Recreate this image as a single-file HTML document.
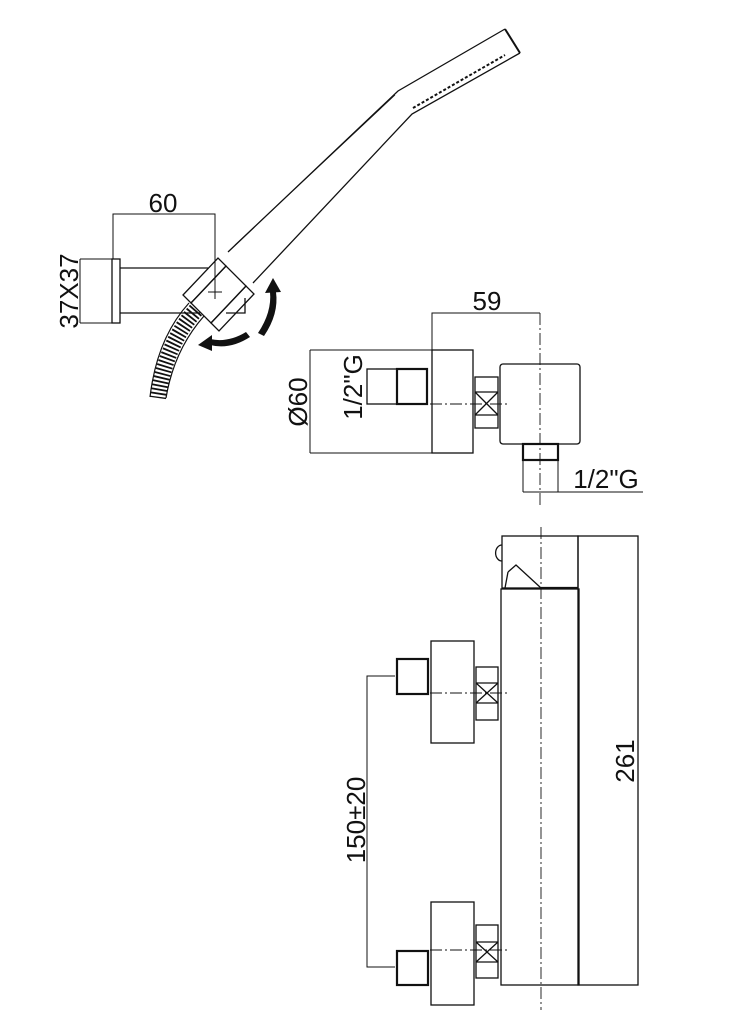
<!DOCTYPE html>
<html><head><style>
html,body{margin:0;padding:0;background:#fff;}
svg{display:block;}
text{font-family:"Liberation Sans",sans-serif;fill:#111;}
</style></head><body>
<svg width="743" height="1024" viewBox="0 0 743 1024" xmlns="http://www.w3.org/2000/svg">
<g fill="none" stroke="#111" stroke-width="1.3">
<!-- hand shower -->
<path d="M505,29 L398,91 L228,252"/>
<path d="M520,53 L412,114 L253,283"/>
<path d="M505,29 L520,53" stroke-width="2"/>
<path d="M413,108 L505,55" stroke-dasharray="3,2" stroke-width="2"/>
<path d="M235,245 L395,95" stroke-width="0.8"/>
<!-- holder -->
<polygon points="183,295 218,258 226,266 191,303"/>
<polygon points="211,323 246,286 254,294 219,331"/>
<polygon points="191,303 226,266 246,286 211,323"/>
<path d="M208,292 h14 M215,285 v14" stroke-width="1"/>
<!-- wall bracket -->
<rect x="112" y="259" width="8" height="64"/>
<path d="M120,268 H208 M120,313 H200 M226,313 H245 V298"/>
<!-- dims -->
<path d="M113,259 V214 H215 V292" stroke-width="1"/>
<path d="M80,259 H112 M80,323 H112 M80,259 V323" stroke-width="1"/>
<!-- hose -->
<path d="M196,310 Q165,345 158,398" stroke="#111" stroke-width="16" stroke-dasharray="1.8,2.2"/>
<path d="M189,303 Q157,338 150,397 M204,316 Q174,350 166,398" stroke-width="1.2"/>
</g>
<!-- arrows -->
<g fill="#111" stroke="none">
<path d="M258,333 Q272,312 270,292 L276,292 Q279,314 264,336 Z"/>
<polygon points="265,293 281,292 273,278"/>
<path d="M250,337 Q230,350 210,345 L210,339 Q228,343 246,332 Z"/>
<polygon points="212,335 212,351 198,345"/>
</g>
<text x="163" y="212" font-size="26" text-anchor="middle">60</text>
<text transform="translate(78,291) rotate(-90)" font-size="26" text-anchor="middle">37X37</text>

<!-- top view -->
<g fill="none" stroke="#111" stroke-width="1.3">
<path d="M432,350 V313 H540" stroke-width="1"/>
<path d="M310,350 H432 M310,453 H432 M310,350 V453" stroke-width="1"/>
<rect x="432" y="350" width="41" height="103"/>
<rect x="367" y="369" width="30" height="35"/>
<rect x="397" y="369" width="30" height="35" stroke-width="2.2"/>
<rect x="475" y="377" width="23" height="51"/>
<path d="M475,392 H498 M475,415 H498 M475,392 L498,415 M498,392 L475,415"/>
<rect x="500" y="364" width="80" height="80" rx="3"/>
<rect x="523" y="444" width="35" height="16" stroke-width="2.2"/>
<path d="M523,460 V492 M558,460 V492 M523,492 H643" stroke-width="1"/>
<path d="M430,404 H510 M540,313 V505" stroke-width="0.9" stroke-dasharray="12,3,2,3"/>
</g>
<text x="487" y="310" font-size="26" text-anchor="middle">59</text>
<text transform="translate(307,402) rotate(-90)" font-size="26" text-anchor="middle">Ø60</text>
<text transform="translate(362,387) rotate(-90)" font-size="26" text-anchor="middle">1/2"G</text>
<text x="606" y="488" font-size="26" text-anchor="middle">1/2"G</text>

<!-- front view -->
<g fill="none" stroke="#111" stroke-width="1.3">
<rect x="502" y="536" width="76" height="52"/>
<path d="M502,545 a4,5 0 0 0 0,16"/>
<path d="M508,572 L516,565 L541,588 M508,572 L505,588"/>
<rect x="578" y="536" width="60" height="449"/>
<rect x="501" y="589" width="78" height="396"/>
<path d="M541,588 H578" stroke-width="2.2"/>
<!-- upper inlet -->
<rect x="431" y="641" width="43" height="102"/>
<rect x="397" y="659" width="31" height="35" stroke-width="2.2"/>
<rect x="476" y="667" width="22" height="53"/>
<path d="M476,683 H498 M476,703 H498 M476,683 L498,703 M498,683 L476,703"/>
<!-- lower inlet -->
<rect x="431" y="902" width="43" height="103"/>
<rect x="397" y="951" width="31" height="34" stroke-width="2.2"/>
<rect x="476" y="925" width="22" height="53"/>
<path d="M476,942 H498 M476,962 H498 M476,942 L498,962 M498,942 L476,962"/>
<path d="M430,693 H510 M430,950 H510 M541,527 V1010" stroke-width="0.9" stroke-dasharray="12,3,2,3"/>
<path d="M395,676 H367 V967 H395" stroke-width="1"/>
</g>
<text transform="translate(365,820) rotate(-90)" font-size="26" text-anchor="middle">150±20</text>
<text transform="translate(634,761) rotate(-90)" font-size="26" text-anchor="middle">261</text>
</svg>
</body></html>
